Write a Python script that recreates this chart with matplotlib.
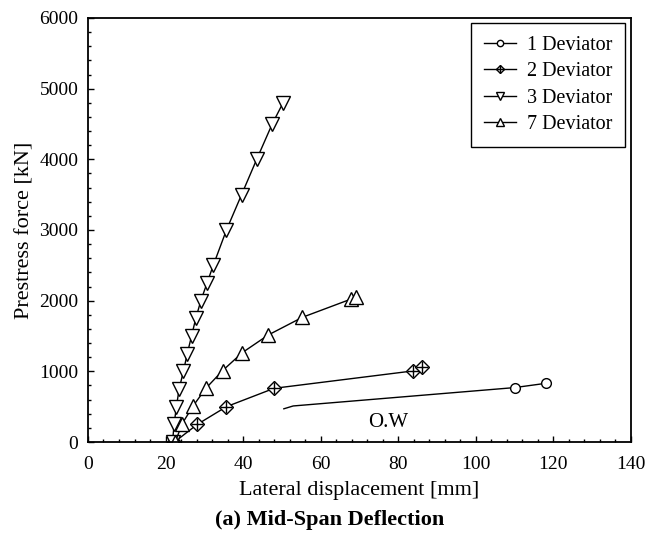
import matplotlib
matplotlib.use('Agg')
import matplotlib.pyplot as plt
from matplotlib.ticker import MultipleLocator
from matplotlib.legend_handler import HandlerTuple

plt.rcParams['font.family'] = ['Liberation Serif', 'DejaVu Serif']

# 1 Deviator (markers only on the last two points)
dev1_x = [50.5, 52.9, 110.0, 118.0]
dev1_y = [470, 510, 770, 830]

# 2 Deviator
dev2_x = [22.3, 28.2, 35.7, 48.0, 83.7, 86.0]
dev2_y = [0, 250, 500, 760, 1005, 1065]

# 3 Deviator
dev3_x = [21.8, 22.2, 22.8, 23.5, 24.6, 25.6, 26.7, 27.8, 29.1, 30.7,
          32.3, 35.7, 39.6, 43.5, 47.5, 50.3]
dev3_y = [0, 250, 500, 750, 1000, 1250, 1500, 1750, 2000, 2250,
          2500, 3000, 3500, 4000, 4500, 4800]

# 7 Deviator
dev7_x = [22.5, 24.3, 27.1, 30.4, 34.7, 39.8, 46.5, 55.3, 67.7, 69.2]
dev7_y = [0, 260, 510, 760, 1010, 1265, 1515, 1765, 2020, 2045]

fig = plt.figure(figsize=(6.59, 5.37), dpi=100)
ax = fig.add_axes([0.1335, 0.1769, 0.824, 0.7896])

line_kw = dict(color='black', linewidth=1.0, markeredgecolor='black',
               markerfacecolor='white', markeredgewidth=1.0)

l1, = ax.plot(dev1_x, dev1_y, marker='o', markersize=7, markevery=[2, 3], **line_kw)
l2, = ax.plot(dev2_x, dev2_y, marker='D', markersize=7, **line_kw)
l2p, = ax.plot(dev2_x, dev2_y, linestyle='none', marker='+', markersize=9,
               markeredgecolor='black', markeredgewidth=1.0)
l3, = ax.plot(dev3_x, dev3_y, marker='v', markersize=9.5, **line_kw)
l7, = ax.plot(dev7_x, dev7_y, marker='^', markersize=9.5, **line_kw)

ax.text(77.3, 270, 'O.W', fontsize=15, ha='center', va='center')

ax.set_xlim(0, 140)
ax.set_ylim(0, 6000)
ax.xaxis.set_major_locator(MultipleLocator(20))
ax.xaxis.set_minor_locator(MultipleLocator(4))
ax.yaxis.set_major_locator(MultipleLocator(1000))
ax.yaxis.set_minor_locator(MultipleLocator(200))
ax.tick_params(which='both', direction='in', top=False, right=False, labelsize=14)
ax.tick_params(axis='x', which='both', pad=10)
ax.tick_params(axis='y', which='both', pad=7)
ax.tick_params(which='major', length=4.5, width=1.0)
ax.tick_params(which='minor', length=2.5, width=1.0)
for s in ax.spines.values():
    s.set_linewidth(1.3)

ax.set_xlabel('Lateral displacement [mm]', fontsize=16, labelpad=6)
ax.set_ylabel('Prestress force [kN]', fontsize=16, labelpad=3)

leg = ax.legend([l1, (l2, l2p), l3, l7],
                ['1 Deviator', '2 Deviator', '3 Deviator', '7 Deviator'],
                handler_map={tuple: HandlerTuple(ndivide=1)},
                loc='upper right', bbox_to_anchor=(0.989, 0.988),
                borderaxespad=0, fontsize=14.5, markerscale=0.65,
                handlelength=1.6, borderpad=0.65, labelspacing=0.35,
                handletextpad=0.5, fancybox=False, framealpha=1,
                edgecolor='black')
leg.get_frame().set_linewidth(1.0)

fig.text(0.5, 0.032, '(a) Mid-Span Deflection', fontsize=16, fontweight='bold',
         ha='center', va='center')

fig.savefig('out.png', dpi=100, facecolor='white')
